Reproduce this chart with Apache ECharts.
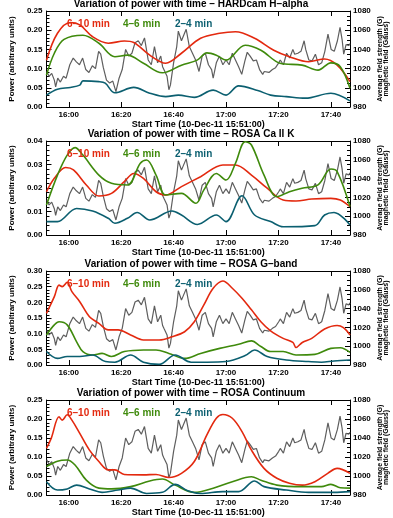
<!DOCTYPE html>
<html>
<head>
    <meta charset="utf-8">
    <title>Variation of power with time</title>
    <script src="https://cdn.jsdelivr.net/npm/echarts/dist/echarts.min.js"></script>
</head>
<body style="margin:0;background:#fff">
<div id="main" style="width:393px;height:518px;"></div>
<script type="text/javascript">
    // time in minutes after 15:00 (start 15:51)
    var xTicks = [60, 80, 100, 120, 140, 160];

    var titles = ['HARDcam H\u2013alpha', 'ROSA Ca II K', 'ROSA G\u2013band', 'ROSA Continuum'];
    var yMax = [0.25, 0.04, 0.30, 0.25];
    var yStep = [0.05, 0.01, 0.05, 0.05];
    var bandNames = ['6\u201310 min', '4\u20136 min', '2\u20134 min'];

    // average magnetic field (right axis), same in every panel
    var fieldGauss = [
        [51.6,1017],[52.5,1012],[53.5,1015],[54.5,1008],[55,1001],[55.8,1010],[56.8,1006],[58,1012],[59,1010],
        [60.4,1024],[61.7,1031],[62.9,1027],[64.1,1024],[65.3,1031],[66.5,1019],[67.7,1016],[69,1023],[70.2,1020],
        [71.4,1038],[72.2,1035],[73.2,1021],[74.4,1008],[75.6,1005],[76.8,1007],[78,996],[79.2,1010],[80.4,1019],
        [81.7,1040],[82.9,1033],[84.1,1036],[85.3,1047],[86.5,1049],[87.7,1044],[88.9,1052],[90.3,1029],[91.5,1024],
        [92.7,1043],[93.9,1026],[95.1,1033],[95.8,1022],[96.3,1019],[97.5,1012],[98.2,998],[98.8,1003],[100,1026],
        [101.2,1043],[101.8,1059],[103,1049],[103.6,1047],[104.8,1061],[106,1043],[107.2,1036],[108.4,1029],
        [109.7,1017],[110.9,1033],[112.1,1036],[113.3,1024],[114.5,1019],[115.1,1010],[116.3,1026],[117.5,1033],
        [118.8,1024],[120,1029],[121.2,1024],[122.4,1036],[123.6,1029],[124.8,1022],[126,1014],[127.2,1028],
        [128.1,1037],[129.2,1033],[130.4,1028],[131.6,1029],[132.8,1019],[134,1014],[134.6,1017],[135.2,1019],
        [136.4,1016],[137.7,1019],[138.9,1021],[140.1,1026],[140.7,1029],[141.9,1024],[143.1,1036],[144.3,1031],
        [145.5,1040],[146.2,1035],[147.4,1036],[148.6,1038],[149.8,1049],[150.4,1040],[151.6,1029],[152.8,1028],
        [154.1,1035],[155.3,1024],[156.5,1026],[157.7,1038],[158.9,1056],[160.1,1040],[161.3,1038],[162.5,1049],
        [163.5,1063],[164.3,1050],[164.9,1035],[165.8,1045],[166.8,1044],[167.3,1046]
    ];

    // HARDcam H-alpha
    var haRed = [[51.5,0.122],[55.7,0.192],[60.6,0.220],[64.2,0.214],[69.1,0.183],[75.1,0.166],[81.2,0.172],
        [84.8,0.168],[90.9,0.135],[97,0.114],[103,0.140],[110.3,0.179],[117.6,0.192],[123.6,0.196],[130.9,0.179],
        [138.2,0.148],[144.2,0.131],[151.5,0.118],[157.6,0.125],[162.4,0.109],[167.3,0.066]];
    var haGreen = [[51.5,0.083],[54.5,0.140],[58.2,0.176],[65.4,0.187],[71.5,0.166],[77.6,0.131],[82.4,0.135],
        [88.5,0.114],[95.7,0.089],[103,0.109],[109,0.122],[112.7,0.141],[116.3,0.135],[120,0.122],[127.3,0.161],
        [133.3,0.148],[140.6,0.114],[149,0.109],[155.1,0.096],[160,0.115],[163.6,0.105],[167.3,0.049]];
    var haTeal = [[51.5,0.031],[55.7,0.046],[60.6,0.051],[64.2,0.057],[65.4,0.068],[71.5,0.066],[73.9,0.062],
        [77.6,0.037],[84.8,0.051],[90.9,0.036],[97,0.027],[101.8,0.031],[107.9,0.025],[115.1,0.044],[120,0.031],
        [124.8,0.055],[132.1,0.043],[137,0.031],[143,0.027],[150.3,0.023],[160,0.036],[167.3,0.016]];

    // ROSA Ca II K
    var caRed = [[51.5,0.0184],[54.5,0.0241],[58.8,0.0287],[61.8,0.0277],[66.7,0.0213],[71.5,0.0166],[76.3,0.0177],
        [81.2,0.0227],[84.8,0.0262],[88.5,0.0241],[93.3,0.0184],[97,0.0170],[103,0.0206],[110.3,0.0248],
        [118.8,0.0298],[123.6,0.0298],[129.7,0.0255],[135.7,0.0199],[141.8,0.0149],[146.7,0.0145],[152.7,0.0153],
        [160,0.0156],[163.6,0.0149],[167.3,0.0121]];
    var caGreen = [[51.5,0.0128],[55.7,0.0255],[59.4,0.0340],[62.4,0.0372],[65.4,0.0340],[71.5,0.0255],[76.3,0.0220],
        [82.4,0.0213],[87.3,0.0305],[89.7,0.0319],[93.3,0.0255],[97,0.0170],[103,0.0177],[108.5,0.0135],
        [111.5,0.0191],[116.3,0.0262],[120,0.0234],[123.6,0.0305],[127.3,0.0397],[129.7,0.0383],[134.5,0.0255],
        [139.4,0.0163],[144.2,0.0184],[149,0.0199],[155.1,0.0213],[160,0.0281],[162.4,0.0270],[167.3,0.0121]];
    var caTeal = [[51.5,0.0057],[55.7,0.0057],[63,0.0113],[69.1,0.0102],[75.1,0.0071],[77.6,0.0050],[82.4,0.0071],
        [86.1,0.0096],[90.9,0.0064],[99.4,0.0102],[103,0.0085],[109.1,0.0045],[116.3,0.0085],[120,0.0057],
        [126.1,0.0167],[130.9,0.0085],[137,0.0057],[141.8,0.0035],[153.9,0.0040],[157.6,0.0085],[161.2,0.0096],
        [167.3,0.0043]];

    // ROSA G-band
    var gbRed = [[51.5,0.165],[54.5,0.218],[56.3,0.255],[57.5,0.250],[59.4,0.264],[61.2,0.234],[64.2,0.202],
        [67.9,0.154],[71.5,0.133],[75.1,0.112],[78.8,0.112],[83.6,0.096],[88.5,0.080],[94.5,0.080],[99.4,0.090],
        [104.2,0.106],[107.9,0.138],[111.5,0.191],[115.1,0.245],[118.8,0.268],[122.4,0.245],[126.1,0.213],
        [129.7,0.176],[133.3,0.138],[137,0.109],[141.8,0.085],[145.5,0.072],[146.7,0.056],[149.1,0.072],
        [152.7,0.085],[157.6,0.115],[162.4,0.126],[164.8,0.119],[167.3,0.096]];
    var gbGreen = [[51.5,0.096],[54.5,0.128],[56.3,0.138],[59.4,0.128],[63,0.074],[65.4,0.043],[69.1,0.032],
        [72.7,0.037],[76.3,0.027],[81.2,0.043],[88.5,0.048],[93.3,0.048],[98.2,0.037],[104.2,0.021],[110.3,0.037],
        [117.6,0.053],[124.8,0.066],[129.7,0.077],[133.3,0.059],[137,0.043],[141.8,0.043],[146.7,0.032],
        [153.9,0.034],[160,0.053],[163.6,0.055],[167.3,0.040]];
    var gbTeal = [[51.5,0.043],[55.7,0.021],[59.4,0.027],[64.2,0.027],[69.1,0.032],[74,0.011],[77.6,0.009],
        [83.6,0.032],[88.5,0.009],[94.5,0.002],[100.6,0.032],[106.7,0.009],[112.7,0.009],[120,0.011],[127.3,0.030],
        [130.9,0.048],[135.7,0.027],[143,0.016],[151.5,0.011],[156.4,0.009],[161.2,0.013],[167.3,0.016]];

    // ROSA Continuum
    var coRed = [[51.5,0.123],[53.3,0.149],[56.3,0.206],[57.5,0.197],[59.4,0.211],[61.2,0.197],[64.2,0.162],
        [67.9,0.118],[71.5,0.088],[75.1,0.066],[77.6,0.066],[81.2,0.054],[88.5,0.053],[93.3,0.054],[98.2,0.046],
        [103,0.057],[107.9,0.088],[112.7,0.158],[116.3,0.202],[118.8,0.212],[122.4,0.202],[126.1,0.167],
        [129.7,0.118],[134.5,0.070],[139.4,0.044],[144.2,0.031],[149.1,0.026],[153.9,0.035],[158.8,0.057],
        [162.4,0.070],[167.3,0.057]];
    var coGreen = [[51.5,0.075],[55.7,0.089],[59.4,0.092],[62.4,0.079],[66.7,0.039],[71.5,0.018],[76.3,0.016],
        [83.6,0.022],[90.9,0.037],[95.7,0.042],[100.6,0.026],[107.9,0.007],[115.1,0.018],[122.4,0.035],
        [129.7,0.048],[133.3,0.039],[139.4,0.026],[149.1,0.022],[156.4,0.022],[160,0.028],[163.6,0.019],
        [167.3,0.018]];
    var coTeal = [[51.5,0.035],[55.7,0.013],[59.4,0.016],[63,0.026],[67.9,0.016],[72.7,0.007],[78.8,0.013],
        [83.6,0.018],[89.7,0.004],[95.7,0.007],[100.6,0.028],[105.4,0.011],[110.3,0.004],[118.8,0.009],
        [124.8,0.009],[130.9,0.037],[134.5,0.022],[143,0.013],[151.5,0.007],[161.2,0.007],[167.3,0.009]];

    var redData = [haRed, caRed, gbRed, coRed];
    var greenData = [haGreen, caGreen, gbGreen, coGreen];
    var tealData = [haTeal, caTeal, gbTeal, coTeal];

    var RED = '#e3290f', GREEN = '#3f8a0c', TEAL = '#0b5f70', GRAY = '#5e5e5e';
    var FONT = 'Liberation Sans';

    var gridTop = [11, 141, 271, 400];
    var gridH = [96, 94, 94, 95];

    var myChart = echarts.init(document.getElementById('main'));

    var grids = [], xAxes = [], yAxes = [], series = [], titleList = [], graphics = [];

    function timeLabel(v) {
        var h = 15 + Math.floor(v / 60);
        var m = v % 60;
        return h + ':' + (m < 10 ? '0' + m : m);
    }

    for (var i = 0; i < 4; i++) {
        grids.push({left: 32, right: 43, top: gridTop[i], height: gridH[i]});

        // bottom axis with labels
        xAxes.push({
            gridIndex: i, type: 'value', min: 51.5, max: 167.3, position: 'bottom',
            axisLine: {onZero: false, lineStyle: {color: '#000', width: 1}},
            axisTick: {inside: true, length: 5, customValues: xTicks, lineStyle: {color: '#000'}},
            axisLabel: {customValues: xTicks, formatter: timeLabel, fontSize: 8, fontWeight: 'bold',
                color: '#000', fontFamily: FONT, margin: 4},
            splitLine: {show: false},
            name: 'Start Time (10-Dec-11 15:51:00)', nameLocation: 'middle', nameGap: 12,
            nameTextStyle: {fontSize: 9, fontWeight: 'bold', color: '#000', fontFamily: FONT}
        });
        // top axis (box)
        xAxes.push({
            gridIndex: i, type: 'value', min: 51.5, max: 167.3, position: 'top',
            axisLine: {onZero: false, lineStyle: {color: '#000', width: 1}},
            axisTick: {inside: true, length: 5, customValues: xTicks, lineStyle: {color: '#000'}},
            axisLabel: {show: false},
            splitLine: {show: false}
        });

        yAxes.push({
            gridIndex: i, type: 'value', min: 0, max: yMax[i], interval: yStep[i], position: 'left',
            axisLine: {show: true, onZero: false, lineStyle: {color: '#000'}},
            axisTick: {show: true, inside: true, length: 5, lineStyle: {color: '#000'}},
            minorTick: {show: true, splitNumber: 5, length: 3, lineStyle: {color: '#000'}},
            axisLabel: {fontSize: 8, fontWeight: 'bold', color: '#000', fontFamily: FONT, margin: 4,
                formatter: function (v) { return v.toFixed(2); }},
            splitLine: {show: false},
            name: 'Power (arbitrary units)', nameLocation: 'middle', nameRotate: 90, nameGap: 24,
            nameTextStyle: {fontSize: 8, fontWeight: 'bold', color: '#000', fontFamily: FONT}
        });
        yAxes.push({
            gridIndex: i, type: 'value', min: 980, max: 1080, interval: 20, position: 'right',
            axisLine: {show: true, onZero: false, lineStyle: {color: '#000'}},
            axisTick: {show: true, inside: true, length: 5, lineStyle: {color: '#000'}},
            minorTick: {show: true, splitNumber: 4, length: 3, lineStyle: {color: '#000'}},
            axisLabel: {fontSize: 8, fontWeight: 'bold', color: '#000', fontFamily: FONT, margin: 3,
                formatter: function (v) { return String(v); }},
            splitLine: {show: false}
        });

        series.push({
            type: 'line', xAxisIndex: i * 2, yAxisIndex: i * 2 + 1, data: fieldGauss,
            showSymbol: false, lineStyle: {color: GRAY, width: 1.2}, z: 1
        });
        series.push({
            type: 'line', xAxisIndex: i * 2, yAxisIndex: i * 2, data: redData[i], smooth: 0.35,
            showSymbol: false, lineStyle: {color: RED, width: 1.6}, z: 3
        });
        series.push({
            type: 'line', xAxisIndex: i * 2, yAxisIndex: i * 2, data: greenData[i], smooth: 0.35,
            showSymbol: false, lineStyle: {color: GREEN, width: 1.6}, z: 3
        });
        series.push({
            type: 'line', xAxisIndex: i * 2, yAxisIndex: i * 2, data: tealData[i], smooth: 0.35,
            showSymbol: false, lineStyle: {color: TEAL, width: 1.6}, z: 3
        });

        titleList.push({
            text: 'Variation of power with time \u2013 ' + titles[i],
            left: 191, textAlign: 'center', top: gridTop[i] - 12, padding: 0,
            textStyle: {fontSize: 10, fontWeight: 'bold', color: '#000', fontFamily: FONT, lineHeight: 11}
        });

        // band labels inside the plot
        var ly = gridTop[i] + 13;
        var lx = [67, 123, 175];
        var lc = [RED, GREEN, TEAL];
        for (var k = 0; k < 3; k++) {
            graphics.push({
                type: 'text', x: lx[k], y: ly, z: 10,
                style: {text: bandNames[k], fill: lc[k], font: 'bold 10px ' + FONT, textVerticalAlign: 'middle'}
            });
        }
        // right-hand axis title (two overlapping lines, as in the original)
        var cy = gridTop[i] + gridH[i] / 2;
        graphics.push({
            type: 'text', x: 380, y: cy, rotation: Math.PI / 2, z: 10,
            style: {text: 'Average field strength (G)', fill: '#000', font: 'bold 7px ' + FONT,
                textAlign: 'center', textVerticalAlign: 'middle'}
        });
        graphics.push({
            type: 'text', x: 386, y: cy, rotation: Math.PI / 2, z: 10,
            style: {text: 'magnetic field (Gauss)', fill: '#000', font: 'bold 7px ' + FONT,
                textAlign: 'center', textVerticalAlign: 'middle'}
        });
    }

    myChart.setOption({
        animation: false,
        backgroundColor: '#fff',
        title: titleList,
        grid: grids,
        xAxis: xAxes,
        yAxis: yAxes,
        series: series,
        graphic: graphics
    });
</script>
</body>
</html>
